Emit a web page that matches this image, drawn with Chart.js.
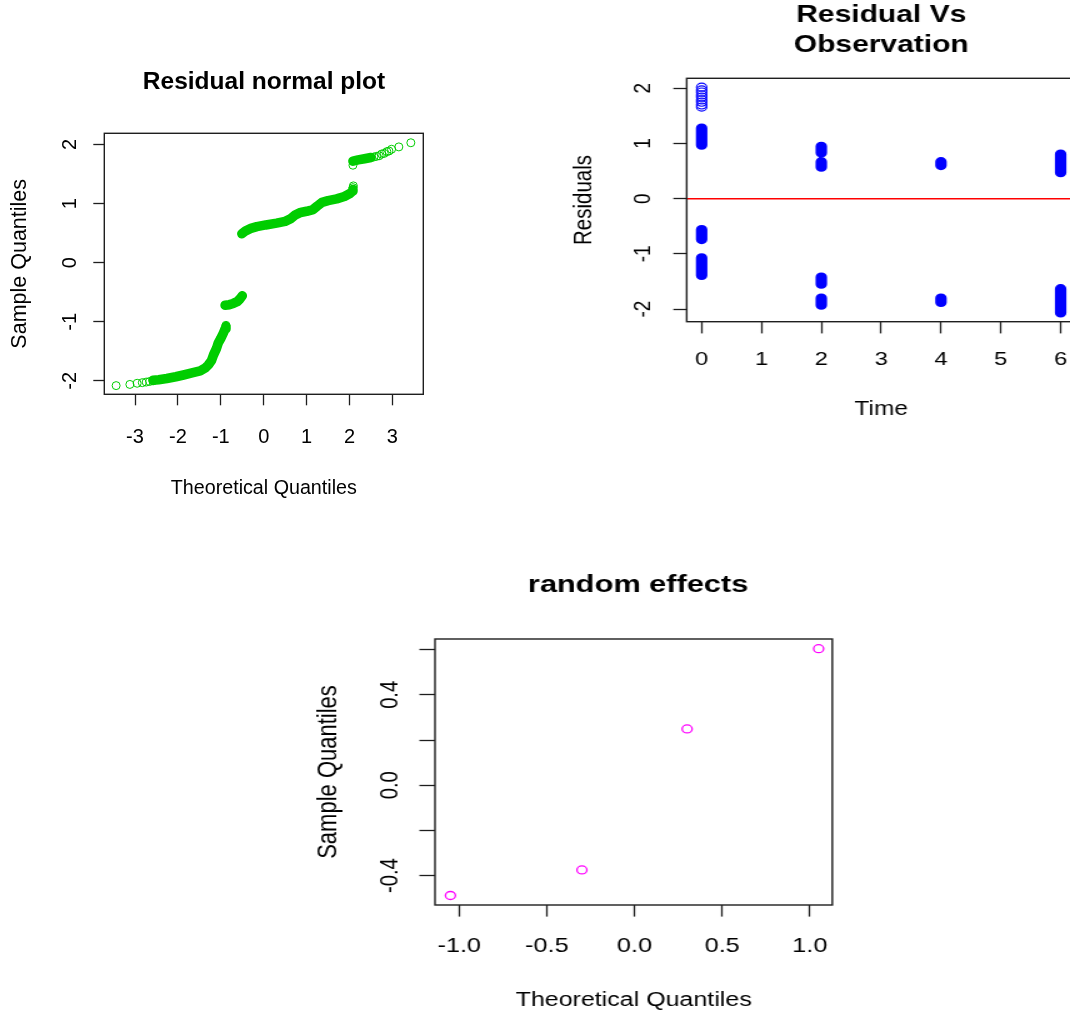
<!DOCTYPE html>
<html>
<head>
<meta charset="utf-8">
<script src="https://cdn.jsdelivr.net/npm/chart.js@4.4.1/dist/chart.umd.min.js"></script>
<style>
  html, body { margin: 0; padding: 0; background: #ffffff; width: 1070px; height: 1017px; overflow: hidden; position: relative; }
  .panel { position: absolute; transform-origin: 0 0; }
  canvas { display: block; }
</style>
</head>
<body>
<script>
// ================= DATA =================
// Panel 1: "Residual normal plot" — sample vs theoretical quantiles
// dense runs of overlapping circles (read along the middle of each run)
const qqBand1X = [-2.58, -2.45, -2.26, -2.05, -1.87, -1.65, -1.48, -1.36, -1.29, -1.22, -1.17, -1.10, -1.06, -1.00, -0.94, -0.90, -0.88];
const qqBand1Y = [-1.99, -1.98, -1.96, -1.93, -1.90, -1.86, -1.83, -1.78, -1.73, -1.66, -1.56, -1.45, -1.36, -1.28, -1.19, -1.12, -1.08];
const qqBand2X = [-0.90, -0.80, -0.71, -0.62, -0.55, -0.50];
const qqBand2Y = [-0.72, -0.71, -0.69, -0.66, -0.61, -0.56];
const qqBand3X = [-0.51, -0.42, -0.30, -0.16, 0.05, 0.30, 0.50, 0.62, 0.74, 0.86, 1.00, 1.15, 1.25, 1.36, 1.50, 1.70, 1.88, 2.01, 2.07, 2.08];
const qqBand3Y = [0.49, 0.54, 0.58, 0.61, 0.64, 0.67, 0.70, 0.74, 0.81, 0.85, 0.87, 0.90, 0.96, 1.02, 1.05, 1.08, 1.12, 1.17, 1.21, 1.24];
const qqBand4X = [2.08, 2.20, 2.35, 2.50];
const qqBand4Y = [1.72, 1.74, 1.76, 1.78];
// separate circles (tails and run ends)
const qqPointX = [-3.44, -3.12, -2.95, -2.83, -2.74, -2.66, -2.58, -0.88, 2.08, 2.09, 2.08, 2.57, 2.63, 2.69, 2.75, 2.81, 2.87, 2.92, 2.98, 3.15, 3.43];
const qqPointY = [-2.08, -2.06, -2.04, -2.03, -2.02, -2.01, -2.00, -1.06, 1.27, 1.30, 1.65, 1.79, 1.80, 1.81, 1.84, 1.85, 1.88, 1.89, 1.92, 1.96, 2.03];
const qqXTicks = [-3, -2, -1, 0, 1, 2, 3];
const qqXLabels = ['-3', '-2', '-1', '0', '1', '2', '3'];
const qqYTicks = [-2, -1, 0, 1, 2];
const qqYLabels = ['-2', '-1', '0', '1', '2'];

// Panel 2: "Residual Vs Observation" — residuals by time
const obsOpenTime = [0, 0, 0, 0, 0, 0, 0, 0, 0];
const obsOpenRes  = [2.02, 1.97, 1.93, 1.88, 1.84, 1.79, 1.75, 1.70, 1.66];
// stacked (solid) groups of residuals: time, highest and lowest value of the stack
const clusterTime = [0, 0, 0, 2, 2, 2, 2, 4, 4, 6, 6];
const clusterHigh = [1.28, -0.56, -1.07, 0.95, 0.67, -1.42, -1.80, 0.67, -1.80, 0.81, -1.63];
const clusterLow  = [0.97, -0.74, -1.39, 0.83, 0.57, -1.55, -1.93, 0.60, -1.88, 0.47, -2.07];
const zeroLineY = 0;
const timeTicks = [0, 1, 2, 3, 4, 5, 6];
const timeLabels = ['0', '1', '2', '3', '4', '5', '6'];
const resYTicks = [-2, -1, 0, 1, 2];
const resYLabels = ['-2', '-1', '0', '1', '2'];

// Panel 3: "random effects"
const reX = [-1.05, -0.30, 0.30, 1.05];
const reY = [-0.488, -0.375, 0.249, 0.604];
const reXTicks = [-1, -0.5, 0, 0.5, 1];
const reXLabels = ['-1.0', '-0.5', '0.0', '0.5', '1.0'];
const reYTicks = [-0.4, -0.2, 0, 0.2, 0.4, 0.6];
const reYLabels = ['-0.4', '', '0.0', '', '0.4', ''];

// ================= STYLE / HELPERS =================
const FONT = "'Liberation Sans', Arial, Helvetica, sans-serif";
const GREEN = '#00CD00', BLUE = '#0000FF', RED = '#FF0000', MAGENTA = '#FF00FF';
const INK = '#1e1e1e';

const mctx = document.createElement('canvas').getContext('2d');
function textWidth(str, size) { mctx.font = size + 'px ' + FONT; return mctx.measureText(str).width; }
function xy(xs, ys) { return xs.map((x, i) => ({ x: x, y: ys[i] })); }

function bandDataset(xs, ys, color, width) {
  return { data: xy(xs, ys), showLine: true, borderColor: color, borderWidth: width,
           borderCapStyle: 'round', borderJoinStyle: 'round', pointRadius: 0, tension: 0,
           xAxisID: 'x', yAxisID: 'y' };
}
function circleDataset(xs, ys, color, r, bw) {
  return { data: xy(xs, ys), showLine: false, pointStyle: 'circle', pointRadius: r,
           pointBorderWidth: bw, pointBorderColor: color, pointBackgroundColor: 'rgba(0,0,0,0)',
           borderColor: color, backgroundColor: 'rgba(0,0,0,0)', xAxisID: 'x', yAxisID: 'y' };
}

const boxPlugin = {
  id: 'rbox',
  afterDraw(chart) {
    const a = chart.chartArea, c = chart.ctx;
    c.save(); c.strokeStyle = INK; c.lineWidth = 1.4;
    c.strokeRect(a.left, a.top, a.right - a.left, a.bottom - a.top);
    c.restore();
  }
};

function makePanel(p) {
  const s = p.s;
  const X = px => (px - p.pageLeft) / s;
  const Y = py => py - p.pageTop;
  const aL = X(p.area.l), aR = X(p.area.r), aT = Y(p.area.t), aB = Y(p.area.b);
  const cw = Math.round(2 * X(p.titleX));
  const rightW = cw - aR;
  const ch = p.ch;

  const wrap = document.createElement('div');
  wrap.className = 'panel';
  wrap.style.left = p.pageLeft + 'px';
  wrap.style.top = p.pageTop + 'px';
  wrap.style.transform = 'scaleX(' + s + ')';
  const cv = document.createElement('canvas');
  cv.width = cw; cv.height = ch;
  cv.style.width = cw + 'px'; cv.style.height = ch + 'px';
  wrap.appendChild(cv);
  document.body.appendChild(wrap);

  const tLH = p.titleSize * p.titleLH;
  const tPadTop = Y(p.titleY) - tLH / 2;
  const tPadBot = aT - tPadTop - p.title.length * tLH;
  const tickLH = p.tickSize * 1.2;
  const xTickPad = Y(p.xLabelY) - aB - p.xTickLen - tickLH / 2;
  const widest = Math.max(...p.yLabels.map(l => textWidth(l, p.tickSize)));
  const yTickPad = aL - p.yTickLen - X(p.yLabelX) - widest / 2;
  const xTitlePadBot = ch - Y(p.xTitleY) - p.xTitleSize * 1.2 / 2;
  const yTitlePadTop = X(p.yTitleX) - p.yTitleSize * 1.2 / 2;

  return new Chart(cv, {
    type: 'scatter',
    data: { datasets: p.datasets },
    options: {
      responsive: false, animation: false, devicePixelRatio: 1, events: [],
      layout: { padding: 0 },
      plugins: {
        legend: { display: false }, tooltip: { enabled: false },
        title: { display: true, text: p.title, color: '#000', fullSize: true,
                 font: { family: FONT, size: p.titleSize, weight: 'bold', lineHeight: p.titleLH },
                 padding: { top: tPadTop, bottom: tPadBot } }
      },
      scales: {
        x: {
          type: 'linear', position: 'bottom', min: p.xMin, max: p.xMax,
          afterFit(sc) { sc.height = ch - aB; },
          afterBuildTicks(sc) { sc.ticks = p.xTicks.map(v => ({ value: v })); },
          grid: { display: true, drawOnChartArea: false, drawTicks: true, tickLength: p.xTickLen, tickColor: INK, tickWidth: 1.3, color: INK },
          border: { display: false },
          ticks: { autoSkip: false, maxRotation: 0, minRotation: 0, padding: xTickPad, color: '#000',
                   font: { family: FONT, size: p.tickSize }, callback: (v, i) => p.xLabels[i] },
          title: { display: true, text: p.xTitle, color: '#000', font: { family: FONT, size: p.xTitleSize },
                   padding: { top: 0, bottom: xTitlePadBot } }
        },
        y: {
          type: 'linear', position: 'left', min: p.yMin, max: p.yMax,
          afterFit(sc) { sc.width = aL; },
          afterBuildTicks(sc) { sc.ticks = p.yTicks.map(v => ({ value: v })); },
          grid: { display: true, drawOnChartArea: false, drawTicks: true, tickLength: p.yTickLen, tickColor: INK, tickWidth: 1.3, color: INK },
          border: { display: false },
          ticks: { autoSkip: false, minRotation: 90, maxRotation: 90, crossAlign: 'center', padding: yTickPad, color: '#000',
                   font: { family: FONT, size: p.tickSize }, callback: (v, i) => p.yLabels[i] },
          title: { display: true, text: p.yTitle, color: '#000', font: { family: FONT, size: p.yTitleSize },
                   padding: { top: yTitlePadTop, bottom: 0 } }
        },
        yPad: {
          type: 'linear', position: 'right', display: true,
          afterFit(sc) { sc.width = rightW; },
          grid: { display: false }, border: { display: false }, ticks: { display: false }, title: { display: false }
        }
      }
    },
    plugins: [boxPlugin]
  });
}

// ================= PANEL 1 =================
makePanel({
  pageLeft: 0, pageTop: 0, s: 1, ch: 520,
  area: { l: 104.3, r: 423.3, t: 133.3, b: 394.3 },
  title: ['Residual normal plot'], titleSize: 24.5, titleLH: 1.2, titleX: 263.8, titleY: 82.5,
  xMin: -3.716, xMax: 3.72, yMin: -2.227, yMax: 2.19,
  xTicks: qqXTicks, xLabels: qqXLabels, yTicks: qqYTicks, yLabels: qqYLabels,
  tickSize: 20, xLabelY: 437.5, yLabelX: 70.3, xTickLen: 11, yTickLen: 11,
  xTitle: 'Theoretical Quantiles', xTitleSize: 19.7, xTitleY: 489,
  yTitle: 'Sample Quantiles', yTitleSize: 21.5, yTitleX: 20,
  datasets: [
    bandDataset(qqBand1X, qqBand1Y, GREEN, 9.6),
    bandDataset(qqBand2X, qqBand2Y, GREEN, 9.6),
    bandDataset(qqBand3X, qqBand3Y, GREEN, 9.6),
    bandDataset(qqBand4X, qqBand4Y, GREEN, 9.6),
    circleDataset(qqPointX, qqPointY, GREEN, 4, 1)
  ]
});

// ================= PANEL 2 =================
const clusterData = [];
clusterTime.forEach((t, i) => {
  clusterData.push({ x: t, y: clusterHigh[i] }, { x: t, y: clusterLow[i] }, { x: t, y: null });
});
const p2XMin = -0.25, p2XMax = 6.25;
makePanel({
  pageLeft: 540, pageTop: 0, s: 1.25, ch: 440,
  area: { l: 686.7, r: 1075.6, t: 78.3, b: 321.7 },
  title: ['Residual Vs', 'Observation'], titleSize: 24, titleLH: 1.22, titleX: 881, titleY: 15.7,
  xMin: p2XMin, xMax: p2XMax, yMin: -2.228, yMax: 2.181,
  xTicks: timeTicks, xLabels: timeLabels, yTicks: resYTicks, yLabels: resYLabels,
  tickSize: 19, xLabelY: 360, yLabelX: 644, xTickLen: 11.7, yTickLen: 10.7,
  xTitle: 'Time', xTitleSize: 19.5, xTitleY: 409.7,
  yTitle: 'Residuals', yTitleSize: 20.5, yTitleX: 584.2,
  datasets: [
    { data: [{ x: p2XMin, y: zeroLineY }, { x: p2XMax, y: zeroLineY }], showLine: true, borderColor: RED,
      borderWidth: 1.5, pointRadius: 0, xAxisID: 'x', yAxisID: 'y' },
    { data: clusterData, showLine: true, spanGaps: false, borderColor: BLUE, borderWidth: 9.2,
      borderCapStyle: 'round', borderJoinStyle: 'round', pointRadius: 0, xAxisID: 'x', yAxisID: 'y' },
    circleDataset(obsOpenTime, obsOpenRes, BLUE, 4.1, 1.1)
  ]
});

// ================= PANEL 3 =================
makePanel({
  pageLeft: 280, pageTop: 555, s: 1.25, ch: 462,
  area: { l: 435, r: 832.3, t: 639, b: 905 },
  title: ['random effects'], titleSize: 24.6, titleLH: 1.2, titleX: 638.3, titleY: 585,
  xMin: -1.138, xMax: 1.128, yMin: -0.530, yMax: 0.647,
  xTicks: reXTicks, xLabels: reXLabels, yTicks: reYTicks, yLabels: reYLabels,
  tickSize: 20.2, xLabelY: 946, yLabelX: 390, xTickLen: 11.6, yTickLen: 12.5,
  xTitle: 'Theoretical Quantiles', xTitleSize: 20, xTitleY: 1000,
  yTitle: 'Sample Quantiles', yTitleSize: 22, yTitleX: 329,
  datasets: [ circleDataset(reX, reY, MAGENTA, 4, 1.3) ]
});
</script>
</body>
</html>
